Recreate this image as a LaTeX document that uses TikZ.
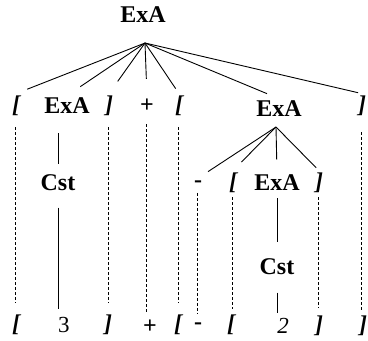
\documentclass[tikz,border=0pt]{standalone}
\usepackage{fontspec}
\setmainfont{Liberation Serif}
\begin{document}
\begin{tikzpicture}[x=1pt, y=-1pt, line width=0.9pt,
    every node/.style={inner sep=2pt, font=\fontsize{24}{28}\selectfont\bfseries},
    brk/.style={font=\fontsize{24}{28}\selectfont\bfseries\itshape},
    num/.style={font=\fontsize{23}{28}\selectfont},
    dline/.style={line width=1pt, dash pattern=on 3pt off 2pt}]
        \useasboundingbox (0,0) rectangle (368,341);
        % top
        \node (top) at (143,15) {ExA};
        \coordinate (a0) at (145,43);
        % second row
        \node[brk] (b1) at (16,106) {[};
        \node (e1) at (67,106) {ExA};
        \node[brk] (b2) at (109,106) {]};
        \node (p1) at (147,106) {+};
        \node[brk] (b3) at (179,106) {[};
        \node (e2) at (279,109) {ExA};
        \node[brk] (b4) at (362,106) {]};
        \coordinate (a1) at (276,127);
        % third row
        \node (m1) at (198,184) {-};
        \node[brk] (b5) at (233,183) {[};
        \node (e3) at (277,183) {ExA};
        \node[brk] (b6) at (319,183) {]};
        \node (cst1) at (58,183) {Cst};
        \node (cst2) at (277,267) {Cst};
        % bottom row
        \node[brk] (c1) at (16,325) {[};
        \node[num] (n3) at (64,325) {3};
        \node[brk] (c2) at (108,325) {]};
        \node (p2) at (150,327) {+};
        \node[brk] (c3) at (178,325) {[};
        \node (m2) at (198,326) {-};
        \node[brk] (c4) at (231,325) {[};
        \node[num, font=\fontsize{23}{28}\selectfont\itshape] (n2) at (283,326) {2};
        \node[brk] (c5) at (319,326) {]};
        \node[brk] (c6) at (363,326) {]};

        \draw[shorten >=12pt] (a0) -- (b1.north);
        \draw[shorten >=16pt] (a0) -- (e1.north);
        \draw[shorten >=15pt] (a0) -- (b2.north);
        \draw[shorten >=18pt] (a0) -- (p1.north);
        \draw[shorten >=6pt] (a0) -- (b3.north);
        \draw[shorten >=13pt] (a0) -- (e2.north);
        \draw[shorten >=4pt] (a0) -- (b4.north);
        \draw[shorten >=12pt] (a1) -- (m1.north);
        \draw[shorten >=12pt] (a1) -- (b5.north);
        \draw[shorten >=13pt] (a1) -- (e3.north);
        \draw[shorten >=4pt] (a1) -- (b6.north);

        \draw[shorten <=17pt, shorten >=8pt] (cst1 |- e1.south) -- (cst1.north);
        \draw[shorten <=14pt, shorten >=6pt] (cst1.south) -- (cst1 |- n3.north);
        \draw[shorten <=5pt, shorten >=14pt] (e3.south) -- (cst2.north);
        \draw[shorten <=15pt, shorten >=3pt] (cst2.south) -- (cst2 |- n2.north);

        \draw[dline, shorten <=9pt, shorten >=10pt] (b1.south) -- (b1.south |- c1.north);
        \draw[dline, shorten <=9pt, shorten >=10pt] (b2.south) -- (b2.south |- c2.north);
        \draw[dline, shorten <=9pt, shorten >=4pt] (p1.south) -- (p1.south |- p2.north);
        \draw[dline, shorten <=9pt, shorten >=10pt] (b3.south) -- (b3.south |- c3.north);
        \draw[dline, shorten <=14pt, shorten >=4pt] (b4.south) -- (b4.south |- c6.north);
        \draw[dline, shorten <=3pt, shorten >=6pt] (m1.south) -- (m1.south |- m2.north);
        \draw[dline, shorten <=2pt, shorten >=4pt] (b5.south) -- (b5.south |- c4.north);
        \draw[dline, shorten <=2pt, shorten >=6pt] (b6.south) -- (b6.south |- c5.north);
\end{tikzpicture}
\end{document}
